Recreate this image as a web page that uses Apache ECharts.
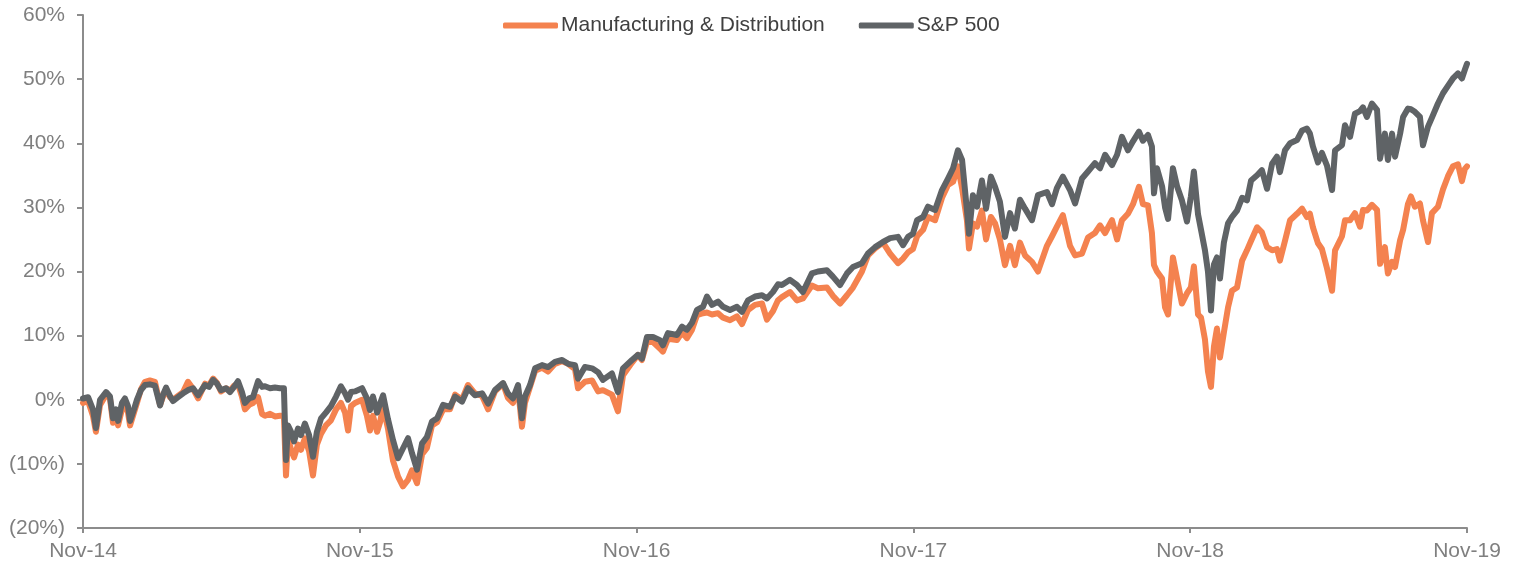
<!DOCTYPE html>
<html>
<head>
<meta charset="utf-8">
<title>Manufacturing & Distribution vs S&P 500</title>
<script src="https://cdn.jsdelivr.net/npm/echarts@6/dist/echarts.min.js"></script>
<style>
  html, body { margin: 0; padding: 0; background: #fff; }
  #chart-wrap { width: 1515px; height: 564px; }
</style>
</head>
<body>
<div id="chart-wrap"></div>
<script>
// x 轴刻度文字
const tickLabels = ['Nov-14', 'Nov-15', 'Nov-16', 'Nov-17', 'Nov-18', 'Nov-19']

// 月份（自 Nov-14 起）
const months = [
  0, 0.22, 0.43, 0.56, 0.74, 1.00, 1.17, 1.30, 1.43, 1.52, 1.69, 1.82, 1.95, 2.04, 2.21, 2.34,
  2.51, 2.69, 2.90, 3.12, 3.34, 3.47, 3.60, 3.77, 3.90, 4.12, 4.34, 4.55, 4.77, 4.99,
  5.29, 5.46, 5.64, 5.81, 5.98, 6.20, 6.37, 6.55, 6.72, 6.89, 7.02, 7.20, 7.37, 7.59,
  7.76, 7.89, 8.11, 8.32, 8.54, 8.71, 8.80, 8.89, 9.02, 9.15, 9.32, 9.45, 9.62, 9.80,
  9.97, 10.14, 10.32, 10.53, 10.75, 10.97, 11.18, 11.36, 11.49, 11.62, 11.79,
  12.10, 12.31, 12.44, 12.57, 12.75, 12.88, 13.01, 13.22, 13.44, 13.66, 13.87, 14.09,
  14.26, 14.48, 14.70, 14.91, 15.13, 15.35, 15.61, 15.91, 16.13, 16.43, 16.69, 16.99,
  17.30, 17.56, 17.86, 18.21, 18.42, 18.64, 18.86, 19.03, 19.16, 19.38, 19.60, 19.90,
  20.16, 20.46, 20.77, 21.03, 21.33, 21.46, 21.76, 22.07, 22.33, 22.54, 22.93, 23.19,
  23.41, 23.80, 24.06, 24.23, 24.45, 24.71, 25.01, 25.14, 25.36, 25.75, 25.97, 26.18,
  26.40, 26.62, 26.88, 27.05, 27.27, 27.53, 27.75, 28.05, 28.35, 28.57, 28.83, 29.13,
  29.44, 29.65, 29.91, 30.13, 30.30, 30.65, 30.95, 31.21, 31.60, 31.86, 32.25, 32.51,
  32.82, 33.12, 33.38, 33.77, 34.03, 34.34, 34.68, 34.99, 35.33, 35.55, 35.77, 35.98,
  36.16, 36.42, 36.63, 36.94, 37.24, 37.50, 37.72, 37.93, 38.11, 38.32, 38.41, 38.58,
  38.76, 38.97, 39.15, 39.36, 39.54, 39.75, 39.97, 40.19, 40.40, 40.62, 40.84, 41.14,
  41.40, 41.79, 42.01, 42.22, 42.48, 42.79, 43.01, 43.31, 43.57, 43.87, 44.09, 44.31,
  44.61, 44.83, 45.04, 45.30, 45.52, 45.78, 45.95, 46.17, 46.34, 46.43, 46.56, 46.78,
  46.91, 47.04, 47.25, 47.43, 47.64, 47.86, 48.03, 48.16, 48.34, 48.47, 48.64, 48.77,
  48.90, 49.03, 49.16, 49.29, 49.46, 49.64, 49.81, 50.03, 50.25, 50.46, 50.64, 50.90,
  51.11, 51.33, 51.55, 51.76, 51.89, 52.11, 52.33, 52.63, 52.85, 53.06, 53.19, 53.32,
  53.54, 53.71, 53.93, 54.15, 54.28, 54.58, 54.71, 54.93, 55.14, 55.36, 55.49, 55.66,
  55.88, 56.10, 56.23, 56.44, 56.57, 56.75, 56.88, 57.10, 57.23, 57.44, 57.57, 57.74,
  57.96, 58.09, 58.31, 58.48, 58.74, 58.96, 59.18, 59.39, 59.61, 59.78, 59.91, 60.00
]

// S&P 500 累计回报 (%)
const spValues = [
  0.2, 0.4, -1.5, -4.4, 0.0, 1.2, 0.5, -2.9, -1.5, -3.3, -0.5, 0.2, -1.0, -3.3, -1.5, 0.0,
  1.5, 2.3, 2.4, 2.2, -0.9, 0.8, 1.9, 0.6, -0.2, 0.4, 1.0, 1.5, 1.8, 0.7,
  2.3, 2.0, 3.1, 2.5, 1.5, 1.8, 1.2, 2.0, 2.9, 1.2, -0.5, 0.2, 0.4, 2.9,
  2.0, 2.1, 1.8, 1.9, 1.8, 1.8, -9.4, -4.0, -5.0, -6.5, -4.5, -5.5, -3.7, -5.5,
  -8.9, -5.0, -2.9, -2.0, -1.0, 0.5, 2.1, 1.0, 0.0, 1.2, 1.3,
  1.8, 0.2, -1.6, 0.5, -2.0, -0.6, 0.7, -3.0, -6.3, -9.1, -7.6, -6.0,
  -8.3, -10.9, -6.8, -5.8, -3.4, -2.9, -0.8, -1.1, 0.5, -0.3, 1.8, 0.7,
  1.0, -0.6, 1.5, 2.6, 1.0, 0.2, 2.3, -2.9, 0.5, 2.3, 4.9, 5.4,
  5.1, 5.9, 6.2, 5.6, 5.4, 3.3, 5.1, 4.9, 4.3, 3.1, 4.1, 1.2,
  4.9, 6.2, 7.0, 6.4, 9.8, 9.8, 9.3, 8.5, 10.4, 10.1, 11.4, 10.9,
  12.0, 14.0, 14.5, 16.1, 14.8, 15.3, 14.5, 14.0, 14.5, 13.7, 15.5, 16.1,
  16.3, 15.8, 16.8, 18.0, 17.9, 18.7, 17.9, 16.8, 19.7, 20.0, 20.2, 19.2,
  17.9, 19.7, 20.7, 21.3, 22.8, 23.8, 24.6, 25.2, 25.4, 24.1, 25.4, 25.9,
  28.0, 28.5, 30.1, 29.6, 32.7, 34.5, 36.1, 38.9, 37.4, 29.6, 25.9, 31.9,
  30.1, 34.2, 29.8, 34.8, 33.2, 30.9, 25.4, 29.1, 26.7, 31.2, 29.8, 28.0,
  31.9, 32.4, 30.5, 33.0, 34.8, 32.7, 30.6, 34.5, 35.6, 36.9, 36.1, 38.2,
  36.6, 38.2, 41.0, 38.9, 40.3, 41.8, 40.4, 41.3, 39.5, 32.2, 36.1, 33.3,
  30.0, 28.2, 36.1, 33.3, 31.1, 27.8, 31.7, 35.6, 28.9, 26.5, 23.3, 20.0,
  13.9, 21.1, 22.2, 18.9, 24.5, 27.5, 28.5, 29.5, 31.5, 31.1, 34.2, 35.0,
  35.8, 32.9, 36.8, 37.9, 35.5, 38.9, 40.0, 40.5, 42.0, 42.3, 41.5, 39.5,
  37.0, 38.5, 36.5, 32.7, 38.9, 39.7, 42.8, 41.0, 44.6, 45.0, 45.6, 44.1,
  46.2, 45.2, 37.6, 41.5, 37.4, 41.5, 37.9, 41.5, 44.1, 45.4, 45.3, 44.9,
  44.1, 39.7, 42.6, 44.0, 46.2, 47.8, 49.0, 50.1, 50.9, 50.1, 51.5, 52.4
]

// Manufacturing & Distribution 累计回报 (%)
const mdValues = [
  -0.5, -0.2, -2.5, -5.0, -0.8, 0.8, 0.2, -3.6, -2.5, -4.0, -1.5, -0.5, -2.0, -4.0, -2.0, -0.5,
  1.6, 2.8, 3.0, 2.8, -0.8, 0.5, 1.6, 0.4, 0.0, 0.6, 1.2, 2.8, 1.7, 0.2,
  2.5, 2.2, 3.3, 2.6, 1.3, 1.8, 1.4, 2.2, 2.4, 0.5, -1.5, -0.8, -0.5, 0.4,
  -2.2, -2.5, -2.2, -2.6, -2.5, -2.5, -11.8, -6.0, -7.8, -9.0, -7.0, -7.8, -6.0, -8.0,
  -11.8, -7.0, -5.3, -4.0, -3.2, -1.5, -0.5, -2.0, -4.8, -1.0, -0.5,
  0.0, -2.5, -4.8, -2.5, -5.0, -3.5, -1.0, -4.5, -9.5, -12.0, -13.5, -12.5,
  -11.0, -13.0, -8.5, -7.5, -4.0, -3.5, -1.5, -1.5, 0.8, 0.0, 2.3, 1.0,
  0.6, -1.5, 1.3, 2.5, 0.3, -0.5, 1.8, -4.2, -0.5, 2.0, 4.5, 5.0,
  4.4, 5.6, 6.0, 5.6, 4.8, 1.8, 2.8, 3.0, 1.3, 1.5, 0.8, -1.8,
  3.8, 5.8, 7.0, 6.2, 9.0, 9.0, 8.0, 7.5, 9.5, 9.3, 10.5, 9.6,
  10.9, 13.2, 13.5, 13.6, 13.3, 13.5, 12.8, 12.4, 13.0, 11.8, 14.0, 14.8,
  15.0, 12.5, 13.8, 15.5, 16.0, 16.8, 15.5, 15.8, 17.8, 17.4, 17.5, 16.2,
  15.0, 16.3, 17.5, 20.0, 22.5, 23.6, 24.5, 22.8, 21.3, 22.0, 23.0, 23.5,
  25.5, 26.5, 28.5, 28.0, 31.5, 33.5, 34.0, 36.4, 33.0, 28.0, 23.6, 27.5,
  27.0, 29.5, 25.0, 28.5, 27.5, 25.0, 21.0, 24.0, 21.0, 24.5, 22.5, 21.5,
  20.0, 24.0, 25.5, 27.0, 28.8, 24.0, 22.5, 22.8, 25.3, 26.0, 27.2, 26.0,
  28.0, 25.0, 28.0, 29.0, 30.5, 33.2, 30.5, 30.3, 26.0, 21.0, 20.0, 18.9,
  14.4, 13.3, 22.2, 18.9, 15.0, 16.6, 17.5, 20.8, 13.3, 12.8, 9.4, 4.4,
  2.0, 8.3, 11.1, 6.6, 10.5, 14.4, 17.0, 17.5, 21.7, 23.3, 24.8, 26.9,
  26.1, 23.8, 23.3, 23.5, 21.7, 24.8, 28.0, 29.0, 29.8, 28.5, 29.0, 26.9,
  24.4, 23.5, 20.5, 17.0, 23.3, 25.5, 28.0, 28.0, 29.1, 27.0, 29.6, 29.5,
  30.4, 29.6, 21.2, 23.8, 19.7, 21.5, 20.7, 24.9, 26.5, 30.5, 31.7, 30.1,
  30.6, 28.0, 24.6, 29.1, 30.1, 32.8, 34.9, 36.4, 36.7, 34.1, 36.0, 36.4
]

const $chart = document.getElementById('chart-wrap')
const chart = echarts.init($chart)

const axisColor = '#8c8c8c'
const labelColor = '#7f7f7f'
const fontFamily = 'Liberation Sans, Arial, sans-serif'

const option = {
  animation: false,
  textStyle: { fontFamily: fontFamily },
  legend: {
    top: 10,
    left: 498,
    itemWidth: 55,
    itemHeight: 6,
    itemGap: 34,
    icon: 'roundRect',
    textStyle: { color: '#404040', fontSize: 21, fontFamily: fontFamily, padding: [0, 0, 0, -2] },
    data: ['Manufacturing & Distribution', 'S&P 500']
  },
  grid: {
    left: 83,
    right: 48,
    top: 15,
    bottom: 36
  },
  xAxis: {
    type: 'value',
    min: 0,
    max: 60,
    interval: 12,
    splitLine: { show: false },
    axisLine: { show: true, onZero: false, lineStyle: { color: axisColor, width: 2 } },
    axisTick: { show: true, length: 5, lineStyle: { color: axisColor, width: 2 } },
    axisLabel: {
      color: labelColor,
      fontSize: 21,
      margin: 13,
      formatter(value) {
        return tickLabels[Math.round(value / 12)] || ''
      }
    }
  },
  yAxis: {
    type: 'value',
    min: -20,
    max: 60,
    interval: 10,
    splitLine: { show: false },
    axisLine: { show: true, lineStyle: { color: axisColor, width: 2 } },
    axisTick: { show: true, length: 6, lineStyle: { color: axisColor, width: 2 } },
    axisLabel: {
      color: labelColor,
      fontSize: 21,
      margin: 18,
      formatter(value) {
        if (value < 0) return `(${Math.abs(value)}%)`
        return `${value}%`
      }
    }
  },
  series: [
    {
      name: 'Manufacturing & Distribution',
      type: 'line',
      showSymbol: false,
      color: '#F4824F',
      lineStyle: { width: 6, color: '#F4824F', join: 'round', cap: 'round' },
      data: months.map((m, i) => [m, mdValues[i]])
    },
    {
      name: 'S&P 500',
      type: 'line',
      showSymbol: false,
      color: '#5F6366',
      lineStyle: { width: 6, color: '#5F6366', join: 'round', cap: 'round' },
      data: months.map((m, i) => [m, spValues[i]])
    }
  ]
}

chart.setOption(option)
</script>
</body>
</html>
